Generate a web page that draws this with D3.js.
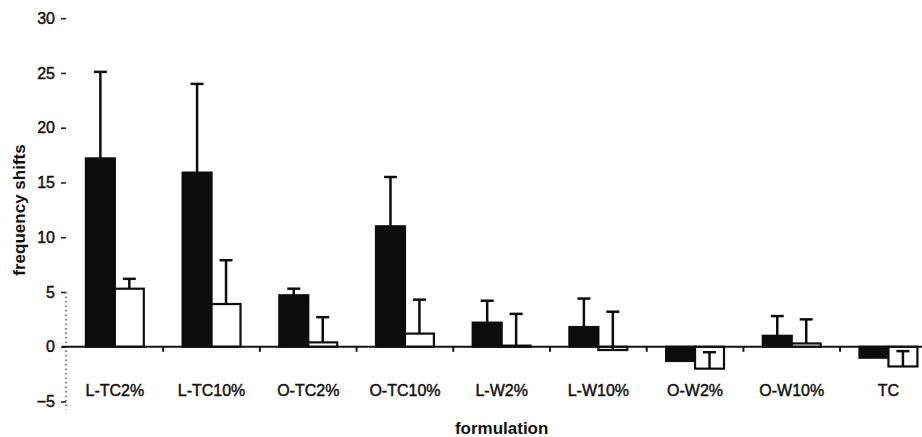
<!DOCTYPE html>
<html>
<head>
<meta charset="utf-8">
<script src="https://cdn.jsdelivr.net/npm/d3@7"></script>
<style>
  body { margin: 0; background: #fff; }
  text { font-family: "Liberation Sans", Arial, sans-serif; fill: #111; }
  .scan { stroke: #111; stroke-width: 0.45px; }
</style>
</head>
<body>
<div id="chart"></div>
<script>
// chart data
const categories = ["L-TC2%", "L-TC10%", "O-TC2%", "O-TC10%", "L-W2%", "L-W10%", "O-W2%", "O-W10%", "TC"];
const blackValues = [17.2, 15.9, 4.7, 11.0, 2.2, 1.8, -1.3, 1.0, -1.0];
const blackErrors = [7.9, 8.1, 0.6, 4.5, 2.0, 2.6, 0.9, 1.8, 0.6];
const whiteValues = [5.3, 3.9, 0.4, 1.2, 0.1, -0.3, -2.0, 0.3, -1.8];
const whiteErrors = [0.9, 4.0, 2.3, 3.1, 2.9, 3.5, 1.5, 2.2, 1.4];
const yTicks = [-5, 0, 5, 10, 15, 20, 25, 30];

const width = 922;
const height = 437;

const svg = d3.select("#chart").append("svg")
  .attr("width", width)
  .attr("height", height);

// plot area runs past the right edge of the picture (the scan is cropped)
const x = d3.scaleBand()
  .domain(categories)
  .range([66.5, 936.8])
  .padding(0);

const sub = d3.scaleBand()
  .domain(["black", "white"])
  .range([0, x.bandwidth()])
  .paddingInner(0)
  .paddingOuter(0.67);

const y = d3.scaleLinear()
  .domain([-5, 30])
  .range([401.5, 18.2]);

const rows = categories.map(function (c, i) {
  return [
    { cat: c, key: "black", value: blackValues[i], err: blackErrors[i] },
    { cat: c, key: "white", value: whiteValues[i], err: whiteErrors[i] }
  ];
}).flat();

// y axis: tick dashes only, dotted line near the bottom
const yAxis = svg.append("g")
  .attr("transform", "translate(66,0)")
  .call(d3.axisLeft(y).tickValues(yTicks).tickSize(5).tickPadding(6));
yAxis.select(".domain").remove();
yAxis.selectAll(".tick line").attr("stroke", "#222").attr("stroke-width", 1.6);
yAxis.selectAll(".tick text")
  .attr("class", "scan")
  .style("font-size", "16px")
  .attr("fill", "#111");

svg.append("line")
  .attr("x1", 66).attr("x2", 66)
  .attr("y1", y(5)).attr("y2", y(-5) + 8)
  .attr("stroke", "#555")
  .attr("stroke-width", 1.5)
  .attr("stroke-dasharray", "1.5,3");

// bars
svg.append("g").selectAll("rect")
  .data(rows)
  .enter().append("rect")
  .attr("x", function (d) { return x(d.cat) + sub(d.key); })
  .attr("y", function (d) { return y(Math.max(0, d.value)); })
  .attr("width", sub.bandwidth())
  .attr("height", function (d) { return Math.abs(y(d.value) - y(0)); })
  .attr("fill", function (d) { return d.key === "black" ? "#0d0d0d" : "#fff"; })
  .attr("stroke", "#0d0d0d")
  .attr("stroke-width", 2.2);

// error bars (plus direction only)
const err = svg.append("g").selectAll("g")
  .data(rows)
  .enter().append("g")
  .attr("transform", function (d) {
    return "translate(" + (x(d.cat) + sub(d.key) + sub.bandwidth() / 2) + ",0)";
  });

err.append("line")
  .attr("y1", function (d) { return y(d.value); })
  .attr("y2", function (d) { return y(d.value + d.err); })
  .attr("stroke", "#0d0d0d")
  .attr("stroke-width", 2.5);

err.append("line")
  .attr("x1", -6.5).attr("x2", 6.5)
  .attr("y1", function (d) { return y(d.value + d.err); })
  .attr("y2", function (d) { return y(d.value + d.err); })
  .attr("stroke", "#0d0d0d")
  .attr("stroke-width", 2.5);

// zero line with boundary ticks
svg.append("line")
  .attr("x1", 62).attr("x2", width)
  .attr("y1", y(0)).attr("y2", y(0))
  .attr("stroke", "#111")
  .attr("stroke-width", 2);

svg.append("g").selectAll("line")
  .data(categories.slice(1))
  .enter().append("line")
  .attr("x1", function (d) { return x(d); })
  .attr("x2", function (d) { return x(d); })
  .attr("y1", y(0))
  .attr("y2", y(0) + 5)
  .attr("stroke", "#111")
  .attr("stroke-width", 2);

// category labels
const xAxis = svg.append("g")
  .attr("transform", "translate(0," + (y(0) + 38) + ")")
  .call(d3.axisBottom(x).tickSize(0).tickPadding(0));
xAxis.select(".domain").remove();
xAxis.selectAll(".tick text")
  .attr("class", "scan")
  .style("font-size", "16px")
  .attr("fill", "#111");

// axis titles
svg.append("text")
  .attr("x", (x.range()[0] + x.range()[1]) / 2)
  .attr("y", 434)
  .attr("text-anchor", "middle")
  .style("font-size", "17px")
  .style("font-weight", "bold")
  .text("formulation");

svg.append("text")
  .attr("transform", "translate(19,210) rotate(-90)")
  .attr("text-anchor", "middle")
  .attr("dy", "0.35em")
  .style("font-size", "17px")
  .style("font-weight", "bold")
  .text("frequency shifts");
</script>
</body>
</html>
